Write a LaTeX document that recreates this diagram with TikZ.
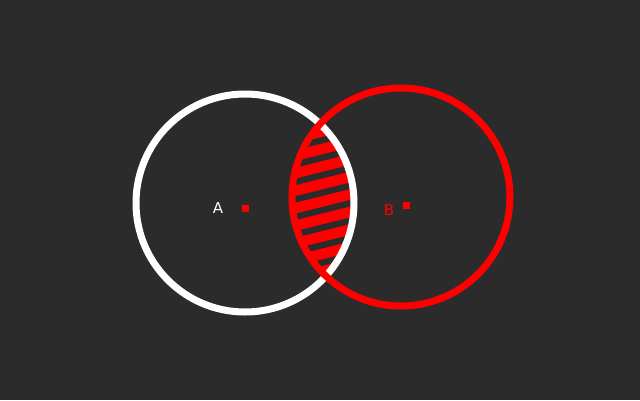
\documentclass[tikz,border=0pt]{standalone}
\usepackage{fontspec}
\setmainfont{DejaVu Sans}
\definecolor{bg}{HTML}{2B2B2B}
\definecolor{rd}{HTML}{FF0000}
\begin{document}
\begin{tikzpicture}[x=1pt,y=-1pt,
  ring/.style={line width=7pt},
  hatch/.style={rd,line width=10.5pt},
  dot/.style={fill=rd,minimum size=7pt,inner sep=0pt,draw=none},
  lbl/.style={font=\fontsize{15}{15}\selectfont,inner sep=0pt}]
\fill[bg] (0,0) rectangle (640,400);
\useasboundingbox (0,0) rectangle (640,400);
\coordinate (ca) at (245,203);
\coordinate (cb) at (401,197);
\begin{scope}
  \clip (ca) circle (109);
  \clip (cb) circle (109);
  \foreach \k in {-1,...,8}{
    \pgfmathsetmacro{\c}{132.5+17.5*\k}
    \draw[hatch] (270,{\c+0.25*48}) -- (380,{\c-0.25*62});
  }
\end{scope}
\draw[ring,white] (ca) circle (109);
\draw[ring,rd] (cb) circle (109);
\node[dot] (da) at (245,208) {};
\node[dot] (db) at (406,205) {};
\node[lbl,white] (la) at (218,208) {A};
\node[lbl,text=rd] (lb) at (389,210) {B};
\end{tikzpicture}
\end{document}
